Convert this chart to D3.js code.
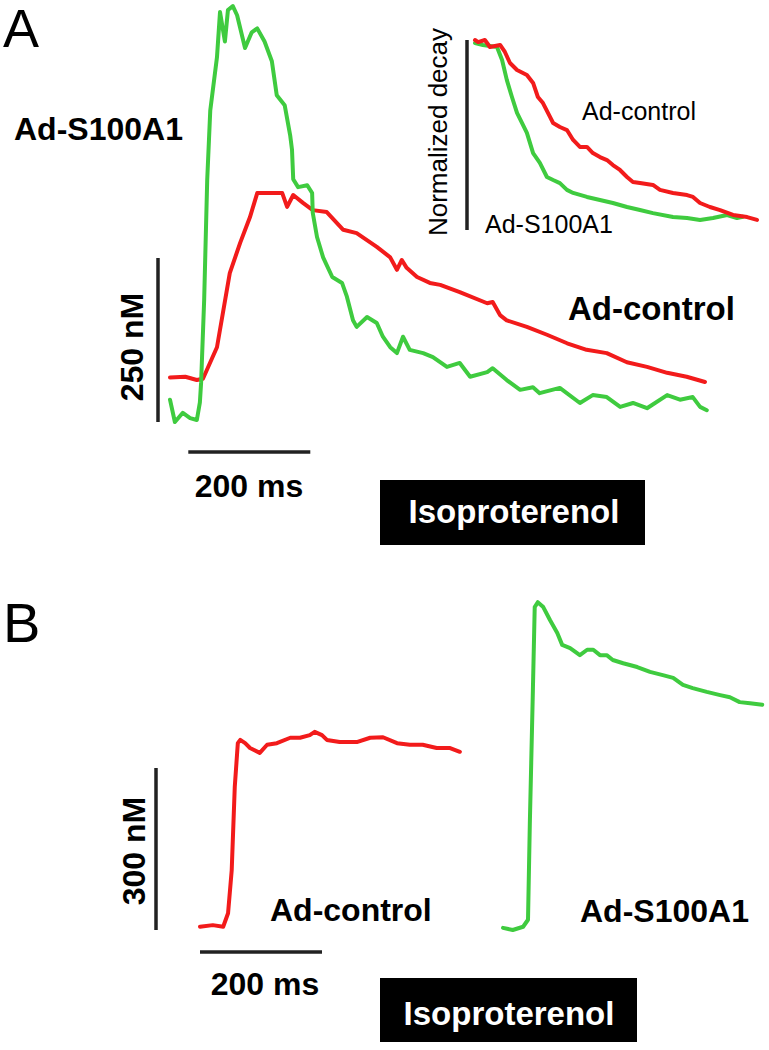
<!DOCTYPE html>
<html>
<head>
<meta charset="utf-8">
<script src="https://cdn.jsdelivr.net/npm/d3@7"></script>
<style>
  body { margin: 0; background: #fff; }
  text { font-family: "Liberation Sans", Arial, Helvetica, sans-serif; }
</style>
</head>
<body>
<svg id="fig" width="769" height="1050"></svg>
<script>
// Panel A: Ca2+ transients, time (ms) vs concentration (nM)
const aControl = [[0,68],[25,69],[44,64],[54,66],[77,114],[98,227],[115,273],[131,312],[143,349],
  [184,349],[192,328],[202,346],[218,334],[234,323],[257,320],[284,293],[306,288],[339,267],
  [361,251],[372,232],[380,247],[388,235],[405,221],[426,212],[443,209],[475,198],[520,181],
  [529,183],[541,163],[552,155],[585,145],[618,133],[651,120],[683,110],[716,105],[749,91],
  [782,84],[815,75],[847,69],[877,61]];
const aS100 = [[0,34],[8,0],[21,14],[33,6],[44,3],[49,30],[51,60],[56,186],[61,369],[66,475],
  [77,556],[82,625],[90,580],[95,628],[103,634],[110,620],[123,570],[134,594],[143,600],[155,580],
  [167,550],[175,498],[188,483],[197,437],[200,415],[202,370],[210,358],[225,361],[233,349],
  [234,319],[241,282],[251,251],[266,221],[282,212],[290,191],[300,155],[306,145],[323,160],
  [339,151],[349,130],[361,114],[372,105],[382,130],[393,110],[415,105],[431,99],[454,84],
  [475,90],[492,69],[520,76],[529,82],[552,64],[574,49],[595,53],[606,44],[639,52],[672,29],
  [693,41],[716,38],[738,23],[759,29],[782,21],[815,41],[836,34],[857,38],[869,23],[880,18]];

// Panel A inset: normalized decay vs normalized time
const insetControl = [[0,1],[0.011,0.989],[0.035,1],[0.053,0.963],[0.089,0.974],[0.106,0.937],
  [0.124,0.879],[0.149,0.842],[0.184,0.816],[0.206,0.774],[0.223,0.7],[0.241,0.668],[0.266,0.595],
  [0.277,0.563],[0.301,0.542],[0.326,0.526],[0.348,0.474],[0.372,0.437],[0.397,0.437],[0.418,0.405],
  [0.443,0.384],[0.468,0.368],[0.489,0.342],[0.514,0.316],[0.539,0.279],[0.56,0.253],[0.585,0.247],
  [0.631,0.237],[0.656,0.211],[0.702,0.195],[0.752,0.184],[0.773,0.174],[0.798,0.142],[0.833,0.121],
  [0.869,0.105],[0.915,0.079],[0.965,0.068],[1,0.053]];
const insetS100 = [[0,0.984],[0.028,0.974],[0.078,0.963],[0.096,0.895],[0.113,0.789],[0.131,0.7],
  [0.149,0.616],[0.167,0.563],[0.184,0.511],[0.206,0.405],[0.23,0.353],[0.255,0.279],[0.277,0.263],
  [0.301,0.247],[0.326,0.211],[0.348,0.195],[0.397,0.174],[0.443,0.158],[0.489,0.142],[0.539,0.121],
  [0.585,0.105],[0.631,0.089],[0.702,0.068],[0.752,0.063],[0.798,0.053],[0.844,0.063],[0.894,0.079],
  [0.929,0.063],[0.95,0.07]];

// Panel B: isoproterenol transients, time (ms) vs concentration (nM)
const bControl = [[0,6],[21,9],[38,6],[46,31],[52,111],[57,265],[62,346],[66,352],[74,346],[82,337],
  [98,328],[110,343],[126,346],[148,356],[164,356],[180,361],[188,367],[200,361],[208,352],[229,348],
  [257,348],[279,356],[300,357],[323,346],[344,343],[365,343],[388,337],[410,337],[426,330]];
const bS100 = [[0,4],[16,0],[33,6],[41,19],[44,198],[49,444],[52,598],[57,607],[66,598],[77,574],
  [89,550],[97,528],[110,522],[126,509],[138,519],[148,519],[159,509],[170,509],[180,500],[197,494],
  [220,487],[241,478],[262,472],[279,467],[295,454],[311,448],[334,441],[356,435],[372,431],[388,422],
  [405,420],[425,417]];

const RED = "#f21b1b", GREEN = "#3fcb3f", BAR = "#222";
const svg = d3.select("#fig");
svg.append("rect").attr("width", 769).attr("height", 1050).attr("fill", "#fff");

const xA = d3.scaleLinear().domain([0, 900]).range([170, 719]);
const yA = d3.scaleLinear().domain([0, 250]).range([422, 258]);
const xI = d3.scaleLinear().domain([0, 1]).range([475, 757]);
const yI = d3.scaleLinear().domain([0, 1]).range([230, 40]);
const xB1 = d3.scaleLinear().domain([0, 900]).range([200, 749]);
const xB2 = d3.scaleLinear().domain([0, 900]).range([503, 1052]);
const yB = d3.scaleLinear().domain([0, 300]).range([930, 768]);

function trace(data, x, y, color, w) {
  svg.append("path")
    .datum(data)
    .attr("d", d3.line().x(d => x(d[0])).y(d => y(d[1])))
    .attr("fill", "none")
    .attr("stroke", color)
    .attr("stroke-width", w)
    .attr("stroke-linejoin", "round")
    .attr("stroke-linecap", "round");
}

function label(txt, x, y, size, weight, opts = {}) {
  const t = svg.append("text")
    .attr("x", x).attr("y", y)
    .attr("font-size", size)
    .attr("font-weight", weight)
    .attr("fill", opts.fill || "#000")
    .attr("text-anchor", opts.anchor || "start")
    .text(txt);
  if (opts.rotate) {
    t.attr("x", 0).attr("y", 0).attr("transform", `translate(${x},${y}) rotate(-90)`);
  }
  return t;
}

function bar(x1, y1, x2, y2) {
  svg.append("line")
    .attr("x1", x1).attr("y1", y1).attr("x2", x2).attr("y2", y2)
    .attr("stroke", BAR).attr("stroke-width", 3.5);
}

// ---- Panel A
label("A", 3, 47, 54, "normal");
trace(aControl, xA, yA, RED, 4);
trace(aS100, xA, yA, GREEN, 4);
label("Ad-S100A1", 14, 140, 32, "bold");
label("Ad-control", 568, 320, 33, "bold");

bar(158, yA(0), 158, yA(250));
label("250 nM", 143, 347, 32, "bold", {rotate: true, anchor: "middle"});
bar(xA(30), 452, xA(230), 452);
label("200 ms", 249, 497, 32, "bold", {anchor: "middle"});

svg.append("rect").attr("x", 380).attr("y", 480).attr("width", 265).attr("height", 65).attr("fill", "#000");
label("Isoproterenol", 514, 523, 33, "bold", {fill: "#fff", anchor: "middle"});

// inset
trace(insetS100, xI, yI, GREEN, 4);
trace(insetControl, xI, yI, RED, 4);
bar(467, yI(0), 467, yI(1));
label("Normalized decay", 447, 132, 26, "normal", {rotate: true, anchor: "middle"});
label("Ad-control", 582, 120, 25, "normal");
label("Ad-S100A1", 485, 233, 25, "normal");

// ---- Panel B
label("B", 3, 642, 56, "normal");
trace(bControl, xB1, yB, RED, 4);
trace(bS100, xB2, yB, GREEN, 4);
bar(156, yB(0), 156, yB(300));
label("300 nM", 145, 851, 32, "bold", {rotate: true, anchor: "middle"});
bar(xB1(0), 952, xB1(200), 952);
label("200 ms", 265, 995, 32, "bold", {anchor: "middle"});
label("Ad-control", 270, 921, 32, "bold");
label("Ad-S100A1", 580, 922, 32, "bold");

svg.append("rect").attr("x", 380).attr("y", 978).attr("width", 257).attr("height", 64).attr("fill", "#000");
label("Isoproterenol", 509, 1025, 33, "bold", {fill: "#fff", anchor: "middle"});
</script>
</body>
</html>
